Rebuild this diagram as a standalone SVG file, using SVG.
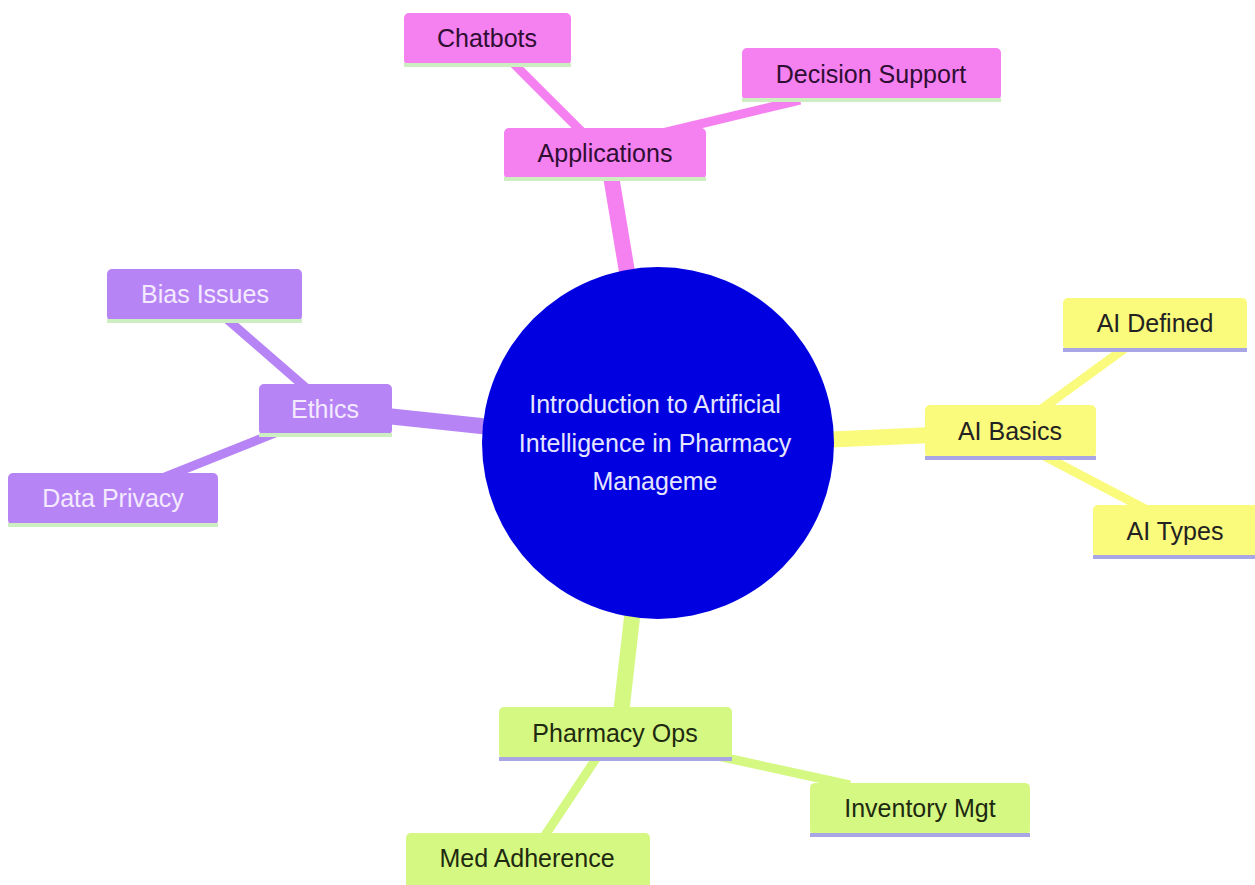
<svg xmlns="http://www.w3.org/2000/svg" width="1255" height="885" viewBox="0 0 1255 885">
<style>
text{font-family:"Liberation Sans",Arial,sans-serif;font-size:25px;text-anchor:middle}
.e{fill:none;stroke-linecap:butt}
.d0{stroke-width:16}
.d1{stroke-width:9}
.pink{stroke:#f580f0}
.purp{stroke:#b784f5}
.yel{stroke:#fafa7c}
.grn{stroke:#d5f882}
rect.pink{fill:#f580f0;stroke:none}
rect.purp{fill:#b784f5;stroke:none}
rect.yel{fill:#fafa7c;stroke:none}
rect.grn{fill:#d5f882;stroke:none}
.lg{stroke:#cdeec0;stroke-width:4}
.lv{stroke:#a9a6e6;stroke-width:4}
.tp{fill:#2e0e33}
.tu{fill:#f3eaff}
.ty{fill:#222222}
.tg{fill:#1e2a10}
</style>
<rect width="1255" height="885" fill="#ffffff"/>
<g id="connectors">
<line class="e d0 pink" x1="610" y1="170" x2="630" y2="290"/>
<line class="e d1 pink" x1="495" y1="45" x2="590" y2="140"/>
<line class="e d1 pink" x1="650" y1="136" x2="800" y2="100"/>
<line class="e d0 purp" x1="330" y1="410" x2="500" y2="428"/>
<line class="e d1 purp" x1="205" y1="300" x2="320" y2="400"/>
<line class="e d1 purp" x1="320" y1="415" x2="120" y2="495"/>
<line class="e d0 yel" x1="820" y1="440" x2="1000" y2="432"/>
<line class="e d1 yel" x1="1010" y1="432" x2="1150" y2="330"/>
<line class="e d1 yel" x1="1010" y1="438" x2="1170" y2="522"/>
<line class="e d0 grn" x1="634" y1="600" x2="618" y2="740"/>
<line class="e d1 grn" x1="690" y1="750" x2="850" y2="785"/>
<line class="e d1 grn" x1="605" y1="745" x2="530" y2="858"/>
</g>
<g id="root">
<circle cx="658" cy="443" r="176" fill="#0000e0"/>
<text x="655" y="413" fill="#e5e5ff">Introduction to Artificial</text>
<text x="655" y="452" fill="#e5e5ff">Intelligence in Pharmacy</text>
<text x="655" y="490" fill="#e5e5ff">Manageme</text>
</g>
<g id="applications">
<rect class="pink" x="504" y="128" width="202" height="51" rx="5"/>
<line class="lg" x1="504" y1="179" x2="706" y2="179"/>
<text class="tp" x="605" y="162">Applications</text>
</g>
<g id="chatbots">
<rect class="pink" x="404" y="13" width="167" height="52" rx="5"/>
<line class="lg" x1="404" y1="65" x2="571" y2="65"/>
<text class="tp" x="487" y="47">Chatbots</text>
</g>
<g id="decision-support">
<rect class="pink" x="742" y="48" width="259" height="52" rx="5"/>
<line class="lg" x1="742" y1="100" x2="1001" y2="100"/>
<text class="tp" x="871" y="83">Decision Support</text>
</g>
<g id="ethics">
<rect class="purp" x="259" y="384" width="133" height="51" rx="5"/>
<line class="lg" x1="259" y1="435" x2="392" y2="435"/>
<text class="tu" x="325" y="418">Ethics</text>
</g>
<g id="bias-issues">
<rect class="purp" x="107" y="269" width="195" height="52" rx="5"/>
<line class="lg" x1="107" y1="321" x2="302" y2="321"/>
<text class="tu" x="205" y="303">Bias Issues</text>
</g>
<g id="data-privacy">
<rect class="purp" x="8" y="473" width="210" height="52" rx="5"/>
<line class="lg" x1="8" y1="525" x2="218" y2="525"/>
<text class="tu" x="113" y="507">Data Privacy</text>
</g>
<g id="ai-basics">
<rect class="yel" x="925" y="405" width="171" height="53" rx="5"/>
<line class="lv" x1="925" y1="458" x2="1096" y2="458"/>
<text class="ty" x="1010" y="440">AI Basics</text>
</g>
<g id="ai-defined">
<rect class="yel" x="1063" y="298" width="184" height="52" rx="5"/>
<line class="lv" x1="1063" y1="350" x2="1247" y2="350"/>
<text class="ty" x="1155" y="332">AI Defined</text>
</g>
<g id="ai-types">
<rect class="yel" x="1093" y="505" width="166" height="52" rx="5"/>
<line class="lv" x1="1093" y1="557" x2="1259" y2="557"/>
<text class="ty" x="1175" y="540">AI Types</text>
</g>
<g id="pharmacy-ops">
<rect class="grn" x="499" y="707" width="233" height="52" rx="5"/>
<line class="lv" x1="499" y1="759" x2="732" y2="759"/>
<text class="tg" x="615" y="742">Pharmacy Ops</text>
</g>
<g id="inventory-mgt">
<rect class="grn" x="810" y="783" width="220" height="52" rx="5"/>
<line class="lv" x1="810" y1="835" x2="1030" y2="835"/>
<text class="tg" x="920" y="817">Inventory Mgt</text>
</g>
<g id="med-adherence">
<rect class="grn" x="406" y="833" width="244" height="56" rx="5"/>
<text class="tg" x="527" y="867">Med Adherence</text>
</g>
</svg>
